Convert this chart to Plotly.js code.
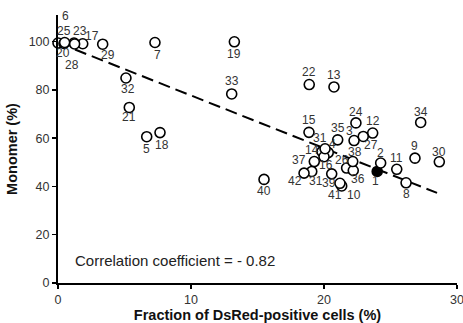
<!DOCTYPE html>
<html>
<head>
<meta charset="utf-8">
<script src="https://cdn.plot.ly/plotly-3.0.1.min.js"></script>
<style>html,body{margin:0;padding:0;background:#fff;}#chart{width:463px;height:323px;}</style>
</head>
<body>
<div id="chart"></div>
<script>
// Data
const pointIds = ["1","2","3","4","5","6","7","8","9","10","11","12","13","14","15","16","17","18","19","20","21","22","23","24","25","26","27","28","29","30","31","31","32","33","34","35","36","37","38","39","40","41","42"];
const dsRedFraction = [24.0,24.26,22.26,20.32,6.67,0.0,7.29,26.17,26.84,21.33,25.47,23.66,20.75,19.85,18.87,20.0,1.86,7.67,13.26,0.45,5.36,18.89,1.2,22.4,0.5,21.7,22.95,1.25,3.36,28.67,20.08,19.08,5.11,13.06,27.27,21.03,22.2,19.27,22.16,20.58,15.49,21.2,18.5];
const monomer = [46.2,49.7,59.0,54.0,60.6,99.4,99.6,41.5,51.7,40.2,47.1,62.1,81.2,54.4,62.4,52.3,99.1,62.3,99.9,99.2,72.7,82.2,99.4,66.3,99.6,47.6,60.7,99.0,98.9,50.2,55.6,46.2,84.9,78.3,66.5,59.3,46.6,50.3,50.3,45.2,42.9,41.3,45.5];
const highlighted = ["1"];
const fitX = [1.28, 28.5];
const fitY = [96.7, 37.3];
const correlationText = "Correlation coefficient = - 0.82";

// Label offsets in pixels (style only)
const labelDx = [-2,0,-5,4,0,7,3,0,0,12,0,0,0,-10,0,2,9,2,0,-1,0,0,6,0,-1,-5,8,-3,5,0,-5,4,2,0,0,0,5,-15,2,-3,0,-5,-9];
const labelDy = [10,-10,-10,-9,12,-27,12,11,-12,9,-11,-12,-12,-2,-12,8,-8,12,12,10,10,-13,-12,-11,-12,-8,9,21,11,-10,-11,10,11,-13,-10,-12,9,-2,-10,9,12,12,8];

const font = "Liberation Sans, Arial, sans-serif";

const traces = [
  {
    x: fitX, y: fitY, mode: "lines", type: "scatter",
    line: {color: "black", width: 2, dash: "12px,6px"},
    hoverinfo: "skip", showlegend: false
  },
  {
    x: dsRedFraction, y: monomer, mode: "markers", type: "scatter",
    marker: {
      size: 10,
      color: pointIds.map(id => highlighted.includes(id) ? "black" : "white"),
      line: {color: "black", width: 1.6}
    },
    cliponaxis: false, showlegend: false
  }
];

const annotations = pointIds.map((id, i) => ({
  x: dsRedFraction[i], y: monomer[i], xref: "x", yref: "y",
  text: id, showarrow: false,
  xshift: labelDx[i], yshift: -labelDy[i],
  font: {family: font, size: 12, color: "#333"}
}));
annotations.push({
  x: 1.1, y: 9.5, xref: "x", yref: "y", xanchor: "left",
  text: correlationText, showarrow: false,
  font: {family: font, size: 15, color: "#222"}
});

const layout = {
  width: 463, height: 323,
  margin: {l: 58, r: 6, t: 15, b: 40},
  paper_bgcolor: "white", plot_bgcolor: "white",
  font: {family: font, color: "#333"},
  xaxis: {
    range: [0, 30], tickvals: [0, 10, 20, 30],
    showgrid: false, zeroline: false,
    showline: true, linecolor: "black", linewidth: 2,
    ticks: "outside", ticklen: 4, tickwidth: 1.5, tickcolor: "black",
    ticklabeloverflow: "allow",
    tickfont: {family: font, size: 12.5, color: "#333"},
    title: {text: "<b>Fraction of DsRed-positive cells (%)</b>", font: {family: font, size: 14.5, color: "#111"}, standoff: 5}
  },
  yaxis: {
    range: [0, 111], tickvals: [0, 20, 40, 60, 80, 100],
    showgrid: false, zeroline: false,
    showline: true, linecolor: "black", linewidth: 2,
    ticks: "outside", ticklen: 4, tickwidth: 1.5, tickcolor: "black",
    tickfont: {family: font, size: 12.5, color: "#333"},
    title: {text: "<b>Monomer (%)</b>", font: {family: font, size: 14.5, color: "#111"}, standoff: 8}
  },
  annotations: annotations
};

Plotly.newPlot("chart", traces, layout, {staticPlot: true, displayModeBar: false});
</script>
</body>
</html>
